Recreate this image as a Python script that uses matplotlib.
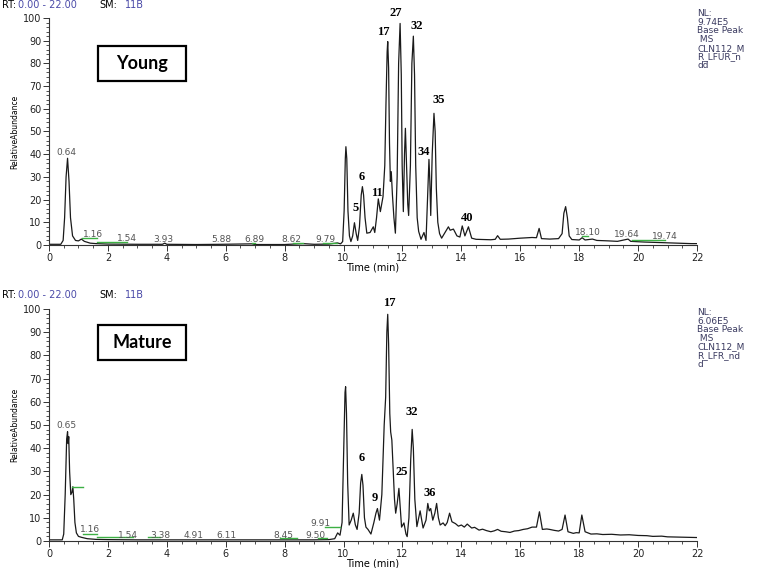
import matplotlib
matplotlib.use("Agg")
import matplotlib.pyplot as plt
from matplotlib.patches import Rectangle
from matplotlib.ticker import MultipleLocator

# ---- data (time in min, relative abundance in %) ----
young_t = [0, 0.40, 0.48, 0.53, 0.58, 0.63, 0.68, 0.73, 0.80, 0.90, 1.00, 1.10, 1.20, 1.40,
           1.60, 2.00, 3.00, 3.85, 3.93, 4.00, 5.00, 5.88, 6.89, 7.00, 8.00, 8.62, 9.00,
           9.50, 9.79, 9.90, 9.97, 10.02, 10.06, 10.08, 10.11, 10.15, 10.20, 10.25, 10.31,
           10.37, 10.43, 10.48, 10.54, 10.60, 10.64, 10.68, 10.73, 10.79, 10.90, 11.01,
           11.06, 11.12, 11.18, 11.25, 11.34, 11.40, 11.44, 11.48, 11.50, 11.53, 11.56,
           11.59, 11.62, 11.66, 11.71, 11.76, 11.82, 11.87, 11.92, 11.96, 11.99, 12.03,
           12.07, 12.10, 12.14, 12.18, 12.21, 12.27, 12.32, 12.37, 12.41, 12.45, 12.50,
           12.55, 12.63, 12.73, 12.80, 12.85, 12.90, 12.93, 12.96, 13.01, 13.07, 13.11,
           13.15, 13.20, 13.26, 13.33, 13.40, 13.56, 13.62, 13.73, 13.85, 13.95, 14.03,
           14.12, 14.24, 14.35, 14.50, 15.00, 15.15, 15.23, 15.32, 15.60, 16.00, 16.40,
           16.55, 16.64, 16.72, 17.00, 17.30, 17.42, 17.48, 17.54, 17.60, 17.66, 17.75,
           18.00, 18.10, 18.20, 18.45, 18.60, 19.00, 19.30, 19.66, 19.75, 20.20, 20.90,
           21.30, 21.80, 22.00]
young_y = [0.3, 0.3, 2, 12, 30, 38.2, 28, 12, 4, 2, 1.8, 2.6, 1.6, 0.8,
           0.6, 0.4, 0.3, 0.3, 0.8, 0.3, 0.2, 0.3, 0.5, 0.2, 0.2, 0.6, 0.3,
           0.4, 0.9, 0.5, 1.5, 15, 38, 43.3, 38, 15, 4, 1.5, 4,
           9.8, 5, 2, 8, 22, 25.7, 22, 12, 5.2, 5.5, 8,
           5.5, 12, 20.3, 14.7, 21.3, 35, 62, 85, 89.6, 78, 45,
           28, 32.3, 22, 12, 5.2, 30, 80, 97.6, 75, 35, 14.7,
           40, 51.4, 35, 18, 13, 35, 80, 92, 75, 35, 12,
           6, 2.5, 5.5, 2, 20, 37.7, 28, 13, 40, 58, 50,
           25, 10, 5, 3, 4.5, 8, 6.5, 7, 4, 3.5, 8.4,
           4, 8, 3, 2.5, 2.3, 2.5, 4.1, 2.5, 2.6, 3.0, 3.3,
           3.2, 7.3, 2.8, 2.6, 2.8, 5, 14, 16.9, 12, 4, 2.4,
           2.2, 3.2, 2.2, 2.6, 2.0, 1.8, 1.6, 2.6, 1.6, 1.3, 1.0,
           0.8, 0.6, 0.6]

mature_t = [0, 0.45, 0.50, 0.55, 0.60, 0.63, 0.65, 0.67, 0.70, 0.74, 0.78, 0.81, 0.84,
            0.88, 0.93, 1.00, 1.10, 1.30, 1.60, 2.00, 3.00, 4.00, 5.00, 6.00, 7.00, 8.00,
            9.00, 9.50, 9.70, 9.80, 9.88, 9.95, 10.00, 10.05, 10.07, 10.10, 10.14, 10.19,
            10.26, 10.33, 10.40, 10.46, 10.53, 10.58, 10.62, 10.66, 10.71, 10.76, 10.83,
            10.93, 11.03, 11.10, 11.15, 11.22, 11.30, 11.38, 11.43, 11.47, 11.50, 11.53,
            11.57, 11.60, 11.64, 11.68, 11.73, 11.77, 11.82, 11.88, 11.92, 11.97, 12.05,
            12.12, 12.16, 12.22, 12.28, 12.33, 12.37, 12.42, 12.49, 12.60, 12.70, 12.80,
            12.86, 12.91, 12.96, 13.03, 13.10, 13.16, 13.22, 13.28, 13.38, 13.45, 13.52,
            13.60, 13.68, 13.80, 13.90, 14.00, 14.10, 14.20, 14.35, 14.45, 14.60, 14.72,
            14.85, 15.00, 15.12, 15.23, 15.35, 15.50, 15.65, 15.80, 15.95, 16.10, 16.25,
            16.40, 16.55, 16.65, 16.75, 16.90, 17.00, 17.15, 17.30, 17.42, 17.52, 17.62,
            17.80, 17.90, 18.00, 18.09, 18.20, 18.40, 18.60, 18.80, 19.10, 19.40, 19.70,
            20.00, 20.30, 20.50, 20.80, 21.00, 21.30, 21.50, 22.00]
mature_y = [0.5, 0.5, 3, 20, 44, 47.1, 42, 45, 30, 20, 21, 23.4, 18,
            8, 3.5, 2.0, 1.6, 1.0, 0.7, 0.6, 0.5, 0.5, 0.5, 0.5, 0.5, 0.5,
            0.5, 0.6, 1.0, 3.5, 2.5, 8, 35, 64, 66.5, 55, 25, 6.9,
            9, 12, 7, 5, 12, 25, 28.7, 24, 10, 6, 5,
            3, 8, 12, 14, 9, 20, 50, 62, 90, 97.7, 85,
            55, 47, 43.5, 32, 18, 12, 16, 22.7, 15, 6, 7.8,
            3, 1.9, 10, 35, 48.1, 40, 18, 6.2, 13, 5.6, 9,
            16.2, 13, 14, 9, 12, 16.2, 10, 6.9, 7.8, 6.6, 8,
            12, 8.3, 7.5, 6.4, 6.9, 6.0, 7.3, 5.6, 5.9, 4.7, 5.1,
            4.5, 4.0, 4.4, 5.0, 4.2, 4.0, 3.7, 4.3, 4.5, 5.0, 5.3,
            6.0, 6.0, 12.6, 5.0, 5.2, 5.0, 4.6, 4.3, 5.0, 11.2, 4.0,
            3.3, 3.6, 3.5, 11.2, 4.0, 3.0, 3.1, 2.8, 2.9, 2.6, 2.7,
            2.4, 2.3, 2.0, 2.1, 1.8, 1.7, 1.6, 1.5]

# numbered compounds: (label, time, y)
young_peak_lbl = ["5", "6", "11", "17", "27", "32", "34", "35", "40"]
young_peak_t = [10.40, 10.62, 11.15, 11.35, 11.78, 12.48, 12.71, 13.22, 14.18]
young_peak_y = [16.2, 30.1, 23.0, 93.7, 102.0, 96.5, 40.8, 63.9, 11.8]

mature_peak_lbl = ["6", "9", "17", "25", "32", "36"]
mature_peak_t = [10.62, 11.07, 11.56, 11.98, 12.31, 12.94]
mature_peak_y = [35.6, 18.4, 102.4, 29.9, 55.7, 20.8]

# software RT annotations
young_rt_lbl = ["0.64", "1.16", "1.54", "3.93", "5.88", "6.89", "8.62", "9.79",
                "18.10", "19.64", "19.74"]
young_rt_t = [0.60, 1.50, 2.64, 3.88, 5.86, 6.96, 8.24, 9.37, 18.31, 19.62, 20.92]
young_rt_y = [40.6, 4.7, 2.9, 2.6, 2.6, 2.6, 2.6, 2.6, 5.7, 4.5, 3.9]

mature_rt_lbl = ["0.65", "1.16", "1.54", "3.38", "4.91", "6.11", "8.45", "9.50", "9.91"]
mature_rt_t = [0.60, 1.39, 2.69, 3.77, 4.90, 6.03, 7.96, 9.03, 9.20]
mature_rt_y = [49.6, 5.0, 2.2, 2.2, 2.2, 2.2, 2.2, 2.2, 7.6]

# green integration baselines: start, end, level
young_base_t0 = [1.11, 1.62, 6.89, 8.30, 9.31, 18.09, 19.79]
young_base_t1 = [1.62, 2.64, 7.00, 8.64, 9.77, 18.31, 20.92]
young_base_y = [3.2, 1.5, 0.8, 1.0, 1.0, 4.1, 2.2]

mature_base_t0 = [0.77, 1.17, 1.62, 3.37, 7.84, 9.14, 9.37]
mature_base_t1 = [1.14, 1.62, 2.86, 3.77, 8.41, 9.43, 9.88]
mature_base_y = [23.1, 3.0, 1.6, 1.6, 1.2, 1.2, 6.2]

young_info = "NL:\n9.74E5\nBase Peak\n MS\nCLN112_M\nR_LFUR_n\ndd"
mature_info = "NL:\n6.06E5\nBase Peak\n MS\nCLN112_M\nR_LFR_nd\nd"

tick_font = "DejaVu Sans"
grey = "#333333"
blue = "#4a4aa8"

fig = plt.figure(figsize=(7.62, 5.68), dpi=100)

panels = [
    dict(rect=[0.0643, 0.5687, 0.8504, 0.3996], t=young_t, y=young_y,
         plbl=young_peak_lbl, pt=young_peak_t, py=young_peak_y,
         rlbl=young_rt_lbl, rt=young_rt_t, ry=young_rt_y,
         b0=young_base_t0, b1=young_base_t1, by=young_base_y,
         name="Young", box_y=0.8574, head_y=0.991, info=young_info, info_y=0.984),
    dict(rect=[0.0643, 0.0475, 0.8504, 0.4085], t=mature_t, y=mature_y,
         plbl=mature_peak_lbl, pt=mature_peak_t, py=mature_peak_y,
         rlbl=mature_rt_lbl, rt=mature_rt_t, ry=mature_rt_y,
         b0=mature_base_t0, b1=mature_base_t1, by=mature_base_y,
         name="Mature", box_y=0.3662, head_y=0.481, info=mature_info, info_y=0.458),
]

for p in panels:
    ax = fig.add_axes(p["rect"])
    ax.plot(p["t"], p["y"], color="#1a1a1a", lw=0.9)
    for a, b, lv in zip(p["b0"], p["b1"], p["by"]):
        ax.plot([a, b], [lv, lv], color="#3cb043", lw=1.0)
    for s, x, yy in zip(p["rlbl"], p["rt"], p["ry"]):
        ax.text(x, yy, s, ha="center", va="center", fontsize=6.5,
                family=tick_font, color="#555555")
    for s, x, yy in zip(p["plbl"], p["pt"], p["py"]):
        ax.text(x, yy, s, ha="center", va="center", fontsize=9,
                family="Liberation Serif", weight="bold", clip_on=False)

    ax.set_xlim(0, 22)
    ax.set_ylim(0, 100)
    for side in ("top", "right"):
        ax.spines[side].set_visible(False)
    for side in ("left", "bottom"):
        ax.spines[side].set_color(grey)
        ax.spines[side].set_linewidth(0.8)
    ax.xaxis.set_major_locator(MultipleLocator(2))
    ax.xaxis.set_minor_locator(MultipleLocator(0.5))
    ax.yaxis.set_major_locator(MultipleLocator(10))
    ax.yaxis.set_minor_locator(MultipleLocator(2))
    ax.tick_params(which="major", length=4, width=0.7, color=grey,
                   labelsize=7, labelcolor="#222222", pad=1.5)
    ax.tick_params(which="minor", length=2, width=0.6, color=grey)
    for lab in ax.get_xticklabels() + ax.get_yticklabels():
        lab.set_family(tick_font)
    ax.set_xlabel("Time (min)", fontsize=7, family=tick_font, labelpad=0)
    ax.set_ylabel("RelativeAbundance", fontsize=5.5, family=tick_font, labelpad=3)

    # sample label box
    fig.patches.append(Rectangle((0.1286, p["box_y"]), 0.1155, 0.0616,
                                 transform=fig.transFigure, fill=False,
                                 edgecolor="black", lw=1.6))
    fig.text(0.1286 + 0.1155 / 2, p["box_y"] + 0.0616 / 2, p["name"],
             ha="center", va="center", fontsize=13, family="Lato", weight="bold")

    # header line
    hy = p["head_y"]
    fig.text(0.003, hy, "RT:", fontsize=7, family=tick_font, va="center")
    fig.text(0.024, hy, "0.00 - 22.00", fontsize=7, family=tick_font, va="center", color=blue)
    fig.text(0.131, hy, "SM:", fontsize=7, family=tick_font, va="center")
    fig.text(0.164, hy, "11B", fontsize=7, family=tick_font, va="center", color=blue)

    fig.text(0.9147, p["info_y"], p["info"], fontsize=6.5, family=tick_font,
             va="top", ha="left", color="#3a3a60", linespacing=0.95)

fig.savefig("out.png", dpi=100)
